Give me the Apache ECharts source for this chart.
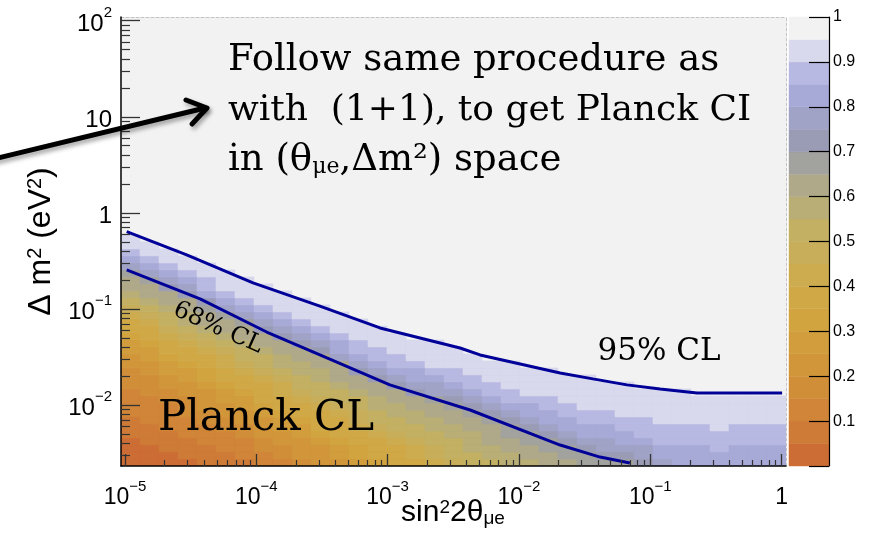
<!DOCTYPE html>
<html>
<head>
<meta charset="utf-8">
<script src="https://cdn.jsdelivr.net/npm/echarts@6/dist/echarts.min.js"></script>
<style>
html,body{margin:0;padding:0;background:#ffffff;}
#chart{width:869px;height:538px;}
</style>
</head>
<body>
<div id="chart"></div>
<script>
// ---------------- data ----------------
const xLogRange = [-5.0305, 0.034];
const yLogRange = [-2.635, 2.0385];

const xMajorTicks = [1e-5, 1e-4, 1e-3, 1e-2, 1e-1, 1];
const yMajorTicks = [1e-2, 1e-1, 1, 10, 100];

const xBinCount = 35;
const yBinLogHeight = 0.0729;

const heatColumns = [
  "00001112222333445567789abccdfghii",
  "0001112222333445567789abccdfghii",
  "00111222233445567789aabccefghii",
  "0111222333445567789abbccefghii",
  "111222334445667789abccdeghhii",
  "11222334455677889abccdfghiii",
  "122233445567789aabccdfghiii",
  "22334445677789aabccefghiii",
  "2334455677889abbccefghiii",
  "34445567789aabbccefghiii",
  "4445677789aabbccefghiii",
  "455677789aabcccfgghiii",
  "56677899aabccefghhiii",
  "677789aabbccefghhiii",
  "77789aabbccefghhiii",
  "7889aabbccefgghiii",
  "899aabbccdffghiiii",
  "9aaabbccdefghhiii",
  "aabbbccdefghhiii",
  "abbcccdefghhiii",
  "bbccddefghhiiii",
  "bccddefgghiiii",
  "ccddefgghhiiii",
  "cddefgghhiiii",
  "ddefgghhiiiii",
  "deffgghhiiii",
  "defgghhiiiii",
  "effghhhiiii",
  "fgghhhiiiii",
  "ggghhhiiiii",
  "ggghhhiiii",
  "gghhhiiiii",
  "ggghhhiiii",
  "ggghhhiiii",
  "ggghhhiiii"
];

const cl68 = [
  [1.03e-5, 0.255], [3.73e-5, 0.127], [1.2e-4, 0.0575], [3.05e-4, 0.0332],
  [1.04e-3, 0.0162], [4.25e-3, 8.87e-3], [2.06e-2, 3.83e-3], [4.15e-2, 2.87e-3],
  [7.0e-2, 2.49e-3]
];
const cl95 = [
  [1.03e-5, 0.638], [2.95e-5, 0.365], [9.44e-5, 0.187], [3.05e-4, 0.107],
  [8.75e-4, 0.0634], [3.56e-3, 0.0392], [5.06e-3, 0.0332], [2.06e-2, 0.0215],
  [3.66e-2, 0.0187], [6.65e-2, 0.0162], [0.119, 0.0147], [0.227, 0.0133],
  [1.01, 0.0133]
];

const zBandWidth = 0.05;
const zBandCount = 20;

// ---------------- styles ----------------
const palette = [
  '#cc6d35', '#cf7b38', '#d08538', '#d18e39', '#d2963a',
  '#d19d3d', '#d2a440', '#d0a846', '#cdac50', '#c8ae5a',
  '#c3b062', '#b9ae76', '#afa98a', '#a2a29e', '#9a9cb5',
  '#a0a2c6', '#a7a9d6', '#b8b9e2', '#d8d9ec', '#f2f2f2'
];
const SANS = '"Liberation Sans", Arial, sans-serif';
const SERIF = '"DejaVu Serif", serif';

// ---------------- build ----------------
const xStep = (xLogRange[1] - xLogRange[0]) / xBinCount;
const cells = [];
heatColumns.forEach(function (col, i) {
  for (let j = 0; j < col.length; j++) {
    const band = parseInt(col[j], 36);
    cells.push([
      Math.pow(10, xLogRange[0] + i * xStep),
      Math.pow(10, yLogRange[0] + j * yBinLogHeight),
      Math.pow(10, xLogRange[0] + (i + 1) * xStep),
      Math.pow(10, yLogRange[0] + (j + 1) * yBinLogHeight),
      (band + 0.5) * zBandWidth
    ]);
  }
});
const bands = [];
for (let k = 0; k < zBandCount; k++) bands.push([k * zBandWidth, (k + 1) * zBandWidth]);

function minorTicks(lo, hi) {
  const out = [];
  for (let e = Math.floor(lo); e <= Math.ceil(hi); e++) {
    for (let m = 2; m <= 9; m++) {
      const v = m * Math.pow(10, e);
      const l = Math.log10(v);
      if (l > lo && l < hi) out.push(v);
    }
  }
  return out;
}
function powLabel(v) {
  const e = Math.round(Math.log10(v));
  if (e === 0) return '{b|1}';
  if (e === 1) return '{b|10}';
  return '{b|10}{sup|' + (e < 0 ? '\u2212' : '') + Math.abs(e) + '}';
}
const xLabelRich = {
  b: { fontSize: 23, padding: [7, 0, 0, 0] },
  sup: { fontSize: 15, verticalAlign: 'top' }
};
const yLabelRich = {
  b: { fontSize: 24, padding: [7, 0, 0, 0] },
  sup: { fontSize: 15, verticalAlign: 'top' }
};

const X_MIN = Math.pow(10, xLogRange[0]), X_MAX = Math.pow(10, xLogRange[1]);
const Y_MIN = Math.pow(10, yLogRange[0]), Y_MAX = Math.pow(10, yLogRange[1]);

function bandColor(z) {
  return palette[Math.max(0, Math.min(zBandCount - 1, Math.floor(z / zBandWidth)))];
}

const chart = echarts.init(document.getElementById('chart'), null, { renderer: 'canvas' });
const option = {
  animation: false,
  backgroundColor: '#ffffff',
  grid: [
    { left: 121, top: 17, width: 665, height: 449, show: true, backgroundColor: '#f2f2f2', borderWidth: 0,
      containLabel: false, outerBoundsMode: 'none' },
    { left: 789, top: 17, width: 40, height: 449, show: false, containLabel: false, outerBoundsMode: 'none' }
  ],
  xAxis: [
    {
      gridIndex: 0, type: 'log', logBase: 10, min: X_MIN, max: X_MAX, position: 'bottom', z: 10,
      axisLine: { onZero: false, lineStyle: { color: '#000', width: 1.5 } },
      axisTick: { inside: true, length: 12, customValues: xMajorTicks, lineStyle: { color: '#333', width: 1.3 } },
      axisLabel: { customValues: xMajorTicks, formatter: powLabel, color: '#000', fontFamily: SANS, fontSize: 23, margin: 13, rich: xLabelRich },
      splitLine: { show: false }
    },
    {
      gridIndex: 0, type: 'log', logBase: 10, min: X_MIN, max: X_MAX, position: 'bottom', z: 10,
      axisLine: { show: false, onZero: false },
      axisTick: { inside: true, length: 6, customValues: minorTicks(xLogRange[0], xLogRange[1]), lineStyle: { color: '#333', width: 1.2 } },
      axisLabel: { show: false }, splitLine: { show: false }
    },
    {
      gridIndex: 0, type: 'log', logBase: 10, min: X_MIN, max: X_MAX, position: 'top',
      axisLine: { onZero: false, lineStyle: { color: '#c4c4c4', width: 1, type: [3, 2] } },
      axisTick: { show: false }, axisLabel: { show: false }, splitLine: { show: false }
    },
    { gridIndex: 1, type: 'value', min: 0, max: 1, show: false }
  ],
  yAxis: [
    {
      gridIndex: 0, type: 'log', logBase: 10, min: Y_MIN, max: Y_MAX, position: 'left', z: 10,
      axisLine: { onZero: false, lineStyle: { color: '#000', width: 1.5 } },
      axisTick: { inside: true, length: 19, customValues: yMajorTicks, lineStyle: { color: '#333', width: 1.3 } },
      axisLabel: { customValues: yMajorTicks, formatter: powLabel, color: '#000', fontFamily: SANS, fontSize: 24, margin: 9, align: 'right', rich: yLabelRich },
      splitLine: { show: false },
      name: '\u0394 m{sup|2} (eV{sup|2})', nameLocation: 'middle', nameRotate: 90, nameGap: 60,
      nameTextStyle: { color: '#000', fontFamily: SANS, fontSize: 32,
        rich: { sup: { fontSize: 20, verticalAlign: 'top' } } }
    },
    {
      gridIndex: 0, type: 'log', logBase: 10, min: Y_MIN, max: Y_MAX, position: 'left', z: 10,
      axisLine: { show: false, onZero: false },
      axisTick: { inside: true, length: 9, customValues: minorTicks(yLogRange[0], yLogRange[1]), lineStyle: { color: '#333', width: 1.2 } },
      axisLabel: { show: false }, splitLine: { show: false }
    },
    {
      gridIndex: 0, type: 'log', logBase: 10, min: Y_MIN, max: Y_MAX, position: 'right',
      axisLine: { onZero: false, lineStyle: { color: '#c4c4c4', width: 1, type: [3, 2] } },
      axisTick: { show: false }, axisLabel: { show: false }, splitLine: { show: false }
    },
    {
      gridIndex: 1, type: 'value', min: 0, max: 1, interval: 0.1, position: 'right', z: 10,
      axisLine: { show: true, onZero: false, lineStyle: { color: '#000', width: 1.2 } },
      axisTick: { show: true, inside: true, length: 20, lineStyle: { color: '#000', width: 1.2 } },
      axisLabel: { color: '#000', fontFamily: SANS, fontSize: 16, margin: 4,
        formatter: function (v) { return v === 0 ? '' : (Math.abs(v - 1) < 1e-9 ? '1' : v.toFixed(1)); } },
      splitLine: { show: false }
    }
  ],
  series: [
    {
      type: 'custom', name: 'Planck', xAxisIndex: 0, yAxisIndex: 0, clip: true, z: 1,
      encode: { x: [0, 2], y: [1, 3] },
      data: cells,
      renderItem: function (params, api) {
        const p0 = api.coord([api.value(0), api.value(1)]);
        const p1 = api.coord([api.value(2), api.value(3)]);
        const c = bandColor(api.value(4));
        const shape = echarts.graphic.clipRectByRect(
          { x: p0[0], y: p1[1], width: p1[0] - p0[0], height: p0[1] - p1[1] },
          { x: params.coordSys.x, y: params.coordSys.y, width: params.coordSys.width, height: params.coordSys.height });
        if (!shape) return null;
        return { type: 'rect', shape: shape, style: { fill: c, stroke: c, lineWidth: 0.6 } };
      }
    },
    {
      type: 'line', name: '68% CL', xAxisIndex: 0, yAxisIndex: 0, data: cl68, showSymbol: false, z: 5,
      lineStyle: { color: '#000099', width: 3 }
    },
    {
      type: 'line', name: '95% CL', xAxisIndex: 0, yAxisIndex: 0, data: cl95, showSymbol: false, z: 5,
      lineStyle: { color: '#000099', width: 3 }
    },
    {
      type: 'custom', name: 'palette', xAxisIndex: 3, yAxisIndex: 3, z: 1,
      encode: { y: [0, 1] },
      data: bands,
      renderItem: function (params, api) {
        const p0 = api.coord([0, api.value(0)]);
        const p1 = api.coord([1, api.value(1)]);
        const c = bandColor((api.value(0) + api.value(1)) / 2);
        return { type: 'rect', shape: { x: p0[0], y: p1[1], width: p1[0] - p0[0], height: p0[1] - p1[1] },
          style: { fill: c, stroke: c, lineWidth: 0.5 } };
      }
    }
  ],
  graphic: [
    { type: 'text', x: 453, y: 513, z: 50,
      style: { text: 'sin{sup|2}2\u03b8{sub|\u03bce}', fill: '#000', fontFamily: SANS, fontSize: 30, align: 'center', verticalAlign: 'middle',
        rich: { sup: { fontSize: 19, fontFamily: SANS, fill: '#000', verticalAlign: 'top' },
                sub: { fontSize: 19, fontFamily: SANS, fill: '#000', verticalAlign: 'bottom' } } } },
    { type: 'text', x: 228, y: 60, z: 50,
      style: { text: 'Follow same procedure as', fill: '#000', fontFamily: SERIF, fontSize: 37, align: 'left', verticalAlign: 'middle' } },
    { type: 'text', x: 228, y: 111, z: 50,
      style: { text: 'with  (1+1), to get Planck CI', fill: '#000', fontFamily: SERIF, fontSize: 36, align: 'left', verticalAlign: 'middle' } },
    { type: 'text', x: 228, y: 160, z: 50,
      style: { text: 'in (\u03b8{sub|\u03bce},\u0394m\u00b2) space', fill: '#000', fontFamily: SERIF, fontSize: 37, align: 'left', verticalAlign: 'middle',
        rich: { sub: { fontSize: 22, fontFamily: SERIF, fill: '#000', verticalAlign: 'bottom' } } } },
    { type: 'text', x: 659, y: 352, z: 50,
      style: { text: '95% CL', fill: '#000', fontFamily: SERIF, fontSize: 31, align: 'center', verticalAlign: 'middle' } },
    { type: 'text', x: 266, y: 419, z: 50,
      style: { text: 'Planck CL', fill: '#000', fontFamily: SERIF, fontSize: 42, align: 'center', verticalAlign: 'middle' } },
    { type: 'text', x: 218, y: 328, z: 50, rotation: -0.42,
      style: { text: '68% CL', fill: '#000', fontFamily: SERIF, fontSize: 24, align: 'center', verticalAlign: 'middle' } },
    { type: 'polyline', z: 60,
      shape: { points: [[-6, 159], [205, 108]] },
      style: { stroke: '#000', lineWidth: 5, lineCap: 'round', shadowBlur: 4, shadowColor: 'rgba(0,0,0,0.35)', shadowOffsetX: 2, shadowOffsetY: 3 } },
    { type: 'polyline', z: 60,
      shape: { points: [[186, 100], [207, 108], [192, 124]] },
      style: { stroke: '#000', lineWidth: 5, lineCap: 'round', lineJoin: 'round', fill: null, shadowBlur: 4, shadowColor: 'rgba(0,0,0,0.35)', shadowOffsetX: 2, shadowOffsetY: 3 } }
  ]
};
chart.setOption(option);
</script>
</body>
</html>
